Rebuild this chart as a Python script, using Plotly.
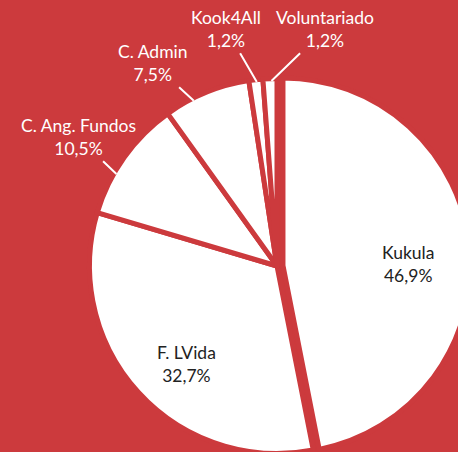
import math
import plotly.graph_objects as go

# ---- data ----
labels = ["Kukula", "F. LVida", "C. Ang. Fundos", "C. Admin", "Kook4All", "Voluntariado"]
values = [46.9, 32.7, 10.5, 7.5, 1.2, 1.2]

# ---- styling / layout ----
BG = "#cc3a3d"
FONT = "Lato"
FS = 17.5
W, H = 480, 470            # page is photographed at 458x452; pie overflows a bit
CX, CY = 277, 266          # pie centre (px)
LINE_W = 5                 # red separators
R_VIS = 185                # visible white radius
R_PATH = R_VIS + LINE_W / 2
pulls = [0.032, 0, 0, 0, 0, 0]
inside = [True, True, False, False, False, False]
# where each outside leader touches the slice (fraction of slice span)
lead_frac = [None, None, 0.35, 0.33, 0.55, 0.6]
# label centres (px)
label_pos = [(408, 264), (186, 364), (78, 137), (153, 63), (226, 29), (325, 29)]

half = R_PATH * (1 + max(pulls))
dom_x = [(CX - half) / W, (CX + half) / W]
dom_y = [1 - (CY + half) / H, 1 - (CY - half) / H]

fig = go.Figure(go.Pie(
    labels=labels, values=values, sort=False, direction="clockwise", rotation=0,
    pull=pulls,
    marker=dict(colors=["#ffffff"] * len(values), line=dict(color=BG, width=LINE_W)),
    textinfo="none",
    hoverinfo="skip",
    domain=dict(x=dom_x, y=dom_y),
    showlegend=False,
))

total = sum(values)
start = 0.0
annotations = []
for i, v in enumerate(values):
    span = 360 * v / total
    tx, ty = label_pos[i]
    txt = f"{labels[i]}<br>{v / total * 100:.1f}%".replace("%.", "%")
    txt = labels[i] + "<br>" + f"{v / total * 100:.1f}".replace(".", ",") + "%"
    if inside[i]:
        annotations.append(dict(
            x=tx / W, y=1 - ty / H, xref="paper", yref="paper",
            text=txt, showarrow=False, xanchor="center", yanchor="middle",
            font=dict(family=FONT, size=FS, color="#222222"),
        ))
    else:
        ang = math.radians(start + lead_frac[i] * span)
        hx = CX + R_VIS * math.sin(ang)
        hy = CY - R_VIS * math.cos(ang)
        annotations.append(dict(
            x=hx / W, y=1 - hy / H, xref="paper", yref="paper",
            ax=tx - hx, ay=ty - hy,
            text=txt,
            showarrow=True, arrowhead=0, arrowwidth=2, arrowcolor="#ffffff",
            standoff=0, startstandoff=1,
            font=dict(family=FONT, size=FS, color="#ffffff"),
        ))
    start += span

fig.update_layout(
    width=W, height=H, margin=dict(l=0, r=0, t=0, b=0),
    paper_bgcolor=BG, plot_bgcolor=BG,
    font=dict(family=FONT),
    annotations=annotations,
)

fig.write_html(
    "out.html",
    config={"displayModeBar": False},
    post_script="document.body.style.margin='0';document.body.style.overflow='hidden';",
)
